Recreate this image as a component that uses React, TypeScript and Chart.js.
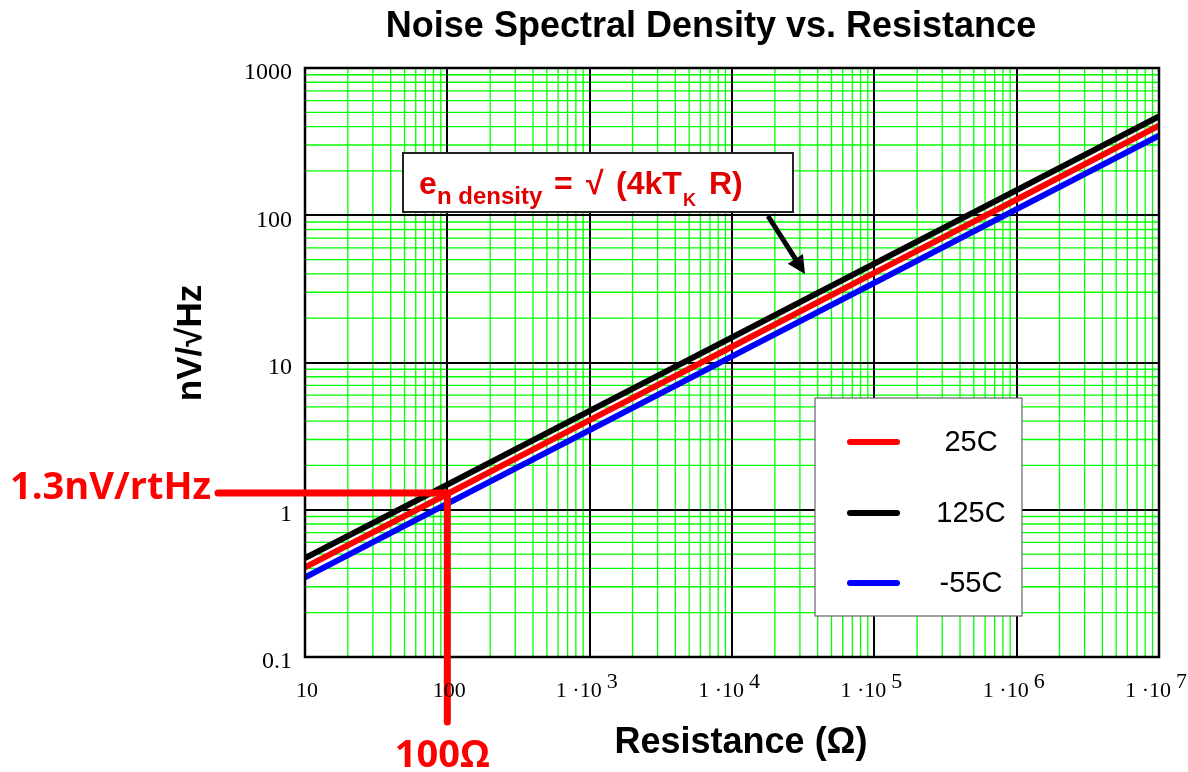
import React, { useEffect, useRef } from "react";
import { Chart, registerables } from "chart.js";

Chart.register(...registerables);

// ---- data ----
const resistance = [10, 100, 1e3, 1e4, 1e5, 1e6, 1e7];
const noise25C = [0.406, 1.28, 4.06, 12.8, 40.6, 128, 406];
const noise125C = [0.469, 1.48, 4.69, 14.8, 46.9, 148, 469];
const noiseMinus55C = [0.347, 1.1, 3.47, 11.0, 34.7, 110, 347];
const seriesLabels = ["25C", "125C", "-55C"];
const seriesColors = ["#ff0000", "#000000", "#0000ff"];

const xTickValues = [10, 100, 1e3, 1e4, 1e5, 1e6, 1e7];
const xTickBase = ["10", "100", "1 \u00b710", "1 \u00b710", "1 \u00b710", "1 \u00b710", "1 \u00b710"];
const xTickExp = ["", "", "3", "4", "5", "6", "7"];
const yTickValues = [0.1, 1, 10, 100, 1000];
const yTickLabels = ["0.1", "1", "10", "100", "1000"];

const markerResistance = 100;
const markerNoise = 1.3;
const markerNoiseLabel = "1.3nV/rtHz";
const markerResistanceLabel = "100\u03a9";

const titleText = "Noise Spectral Density vs. Resistance";
const xTitle = "Resistance (\u03a9)";
const yTitle = "nV/\u221aHz";

function decadeGrid(minExp: number, maxExp: number): number[] {
  const out: number[] = [];
  for (let e = minExp; e < maxExp; e++) {
    for (let m = 1; m <= 9; m++) out.push(Number((m * Math.pow(10, e)).toPrecision(12)));
  }
  out.push(Number(Math.pow(10, maxExp).toPrecision(12)));
  return out;
}
const xGrid = decadeGrid(1, 7);
const yGrid = decadeGrid(-1, 3);

const isDecade = (v: number) => {
  const l = Math.log10(v);
  return Math.abs(l - Math.round(l)) < 1e-9;
};

const gridPlugin = {
  id: "logGrid",
  beforeDatasetsDraw(chart: any) {
    const ctx: CanvasRenderingContext2D = chart.ctx;
    const { left, right, top, bottom } = chart.chartArea;
    const xs = chart.scales.x;
    const ys = chart.scales.y;
    ctx.save();
    ctx.strokeStyle = "#00ff00";
    ctx.lineWidth = 1.3;
    ctx.beginPath();
    xGrid.filter((v) => !isDecade(v)).forEach((v) => {
      const p = xs.getPixelForValue(v);
      ctx.moveTo(p, top);
      ctx.lineTo(p, bottom);
    });
    yGrid.filter((v) => !isDecade(v)).forEach((v) => {
      const p = ys.getPixelForValue(v);
      ctx.moveTo(left, p);
      ctx.lineTo(right, p);
    });
    ctx.stroke();
    ctx.strokeStyle = "#000";
    ctx.lineWidth = 2;
    ctx.beginPath();
    xGrid.filter(isDecade).forEach((v) => {
      const p = Math.round(xs.getPixelForValue(v));
      ctx.moveTo(p, top);
      ctx.lineTo(p, bottom);
    });
    yGrid.filter(isDecade).forEach((v) => {
      const p = Math.round(ys.getPixelForValue(v));
      ctx.moveTo(left, p);
      ctx.lineTo(right, p);
    });
    ctx.stroke();
    ctx.restore();
  },
};

const overlayPlugin = {
  id: "overlay",
  afterDraw(chart: any) {
    const ctx: CanvasRenderingContext2D = chart.ctx;
    const { left, right, top, bottom } = chart.chartArea;
    const xs = chart.scales.x;
    const ys = chart.scales.y;
    ctx.save();

    // frame
    ctx.strokeStyle = "#000";
    ctx.lineWidth = 2.5;
    ctx.strokeRect(left, top, right - left, bottom - top);

    // formula box
    ctx.fillStyle = "#fff";
    ctx.fillRect(403, 153, 390, 59);
    ctx.strokeStyle = "#222";
    ctx.lineWidth = 2;
    ctx.strokeRect(403, 153, 390, 59);
    ctx.fillStyle = "#e00000";
    ctx.textBaseline = "alphabetic";
    ctx.textAlign = "left";
    const big = "bold 32px 'Liberation Sans', Arial, sans-serif";
    const sub = "bold 24px 'Liberation Sans', Arial, sans-serif";
    const subK = "bold 18px 'Liberation Sans', Arial, sans-serif";
    ctx.font = big;
    ctx.fillText("e", 419, 194);
    ctx.font = sub;
    ctx.fillText("n density", 437, 204);
    ctx.font = big;
    ctx.fillText("=", 554, 194);
    ctx.fillText("\u221a", 586, 194);
    ctx.fillText("(4kT", 616, 194);
    ctx.font = subK;
    ctx.fillText("K", 683, 206);
    ctx.font = big;
    ctx.fillText("R)", 709, 194);

    // arrow
    const ax0 = 768, ay0 = 216, ax1 = 805, ay1 = 274;
    const ang = Math.atan2(ay1 - ay0, ax1 - ax0);
    ctx.strokeStyle = "#000";
    ctx.fillStyle = "#000";
    ctx.lineWidth = 5;
    ctx.lineCap = "butt";
    ctx.beginPath();
    ctx.moveTo(ax0, ay0);
    ctx.lineTo(ax1 - 14 * Math.cos(ang), ay1 - 14 * Math.sin(ang));
    ctx.stroke();
    ctx.beginPath();
    ctx.moveTo(ax1, ay1);
    ctx.lineTo(ax1 - 18 * Math.cos(ang) + 9 * Math.sin(ang), ay1 - 18 * Math.sin(ang) - 9 * Math.cos(ang));
    ctx.lineTo(ax1 - 18 * Math.cos(ang) - 9 * Math.sin(ang), ay1 - 18 * Math.sin(ang) + 9 * Math.cos(ang));
    ctx.closePath();
    ctx.fill();

    // legend box
    ctx.fillStyle = "#fff";
    ctx.fillRect(815, 398, 207, 218);
    ctx.strokeStyle = "#666";
    ctx.lineWidth = 1.2;
    ctx.strokeRect(815, 398, 207, 218);
    const legY = [442, 513, 583];
    chart.data.datasets.forEach((ds: any, i: number) => {
      ctx.strokeStyle = ds.borderColor;
      ctx.lineWidth = 6;
      ctx.lineCap = "round";
      ctx.beginPath();
      ctx.moveTo(850, legY[i]);
      ctx.lineTo(897, legY[i]);
      ctx.stroke();
      ctx.fillStyle = "#000";
      ctx.font = "29px 'Liberation Sans', Arial, sans-serif";
      ctx.textAlign = "center";
      ctx.textBaseline = "middle";
      ctx.fillText(ds.label, 971, legY[i] + 1);
    });

    // red marker lines
    const mx = xs.getPixelForValue(markerResistance);
    const my = ys.getPixelForValue(markerNoise);
    ctx.strokeStyle = "#ff0000";
    ctx.lineWidth = 7;
    ctx.lineCap = "round";
    ctx.lineJoin = "miter";
    ctx.beginPath();
    ctx.moveTo(218, my);
    ctx.lineTo(mx, my);
    ctx.lineTo(mx, 722);
    ctx.stroke();

    ctx.fillStyle = "#ff0000";
    ctx.font = "bold 38px 'Open Sans', 'Liberation Sans', sans-serif";
    ctx.textAlign = "left";
    ctx.textBaseline = "alphabetic";
    ctx.fillText(markerNoiseLabel, 10, my + 6);
    ctx.textAlign = "center";
    ctx.fillText(markerResistanceLabel, mx - 5, 767);

    // tick labels
    ctx.fillStyle = "#000";
    ctx.font = "22px 'Liberation Serif', 'Times New Roman', serif";
    ctx.textBaseline = "alphabetic";
    xTickValues.forEach((v, i) => {
      const px = xs.getPixelForValue(v);
      if (xTickExp[i]) {
        ctx.textAlign = "right";
        ctx.fillText(xTickBase[i], px + 12, 697);
        ctx.textAlign = "left";
        ctx.fillText(xTickExp[i], px + 17, 688);
      } else {
        ctx.textAlign = "center";
        ctx.fillText(xTickBase[i], px + 2, 697);
      }
    });
    ctx.font = "24px 'Liberation Serif', 'Times New Roman', serif";
    ctx.textAlign = "right";
    ctx.textBaseline = "middle";
    yTickValues.forEach((v, i) => {
      const py = ys.getPixelForValue(v);
      ctx.fillText(yTickLabels[i], 292, py + 5);
    });

    // titles
    ctx.fillStyle = "#000";
    ctx.textAlign = "center";
    ctx.textBaseline = "middle";
    ctx.font = "bold 36px 'Liberation Sans', Arial, sans-serif";
    ctx.fillText(titleText, 711, 27);
    ctx.fillText(xTitle, 741, 743);
    ctx.save();
    ctx.translate(191, 343);
    ctx.rotate(-Math.PI / 2);
    ctx.font = "bold 35px 'Liberation Sans', Arial, sans-serif";
    ctx.fillText(yTitle, 0, 0);
    ctx.restore();

    ctx.restore();
  },
};

export default function App() {
  const canvasRef = useRef<HTMLCanvasElement | null>(null);

  useEffect(() => {
    if (!canvasRef.current) return;
    const seriesValues = [noise25C, noise125C, noiseMinus55C];
    const chart = new Chart(canvasRef.current, {
      type: "line",
      data: {
        datasets: seriesValues.map((vals, i) => ({
          label: seriesLabels[i],
          data: resistance.map((r, j) => ({ x: r, y: vals[j] })),
          borderColor: seriesColors[i],
          backgroundColor: seriesColors[i],
          borderWidth: 6,
          pointRadius: 0,
          tension: 0,
          fill: false,
        })),
      },
      options: {
        animation: false,
        responsive: false,
        maintainAspectRatio: false,
        devicePixelRatio: 1,
        layout: { padding: { left: 305, top: 68, right: 29, bottom: 115 } },
        plugins: {
          legend: { display: false },
          title: { display: false },
          tooltip: { enabled: false },
        },
        scales: {
          x: {
            type: "logarithmic",
            min: 10,
            max: 1e7,
            ticks: { display: false },
            border: { display: false },
            grid: { display: false, drawTicks: false },
          },
          y: {
            type: "logarithmic",
            min: 0.1,
            max: 1000,
            ticks: { display: false },
            border: { display: false },
            grid: { display: false, drawTicks: false },
          },
        },
      },
      plugins: [gridPlugin, overlayPlugin],
    });
    return () => chart.destroy();
  }, []);

  return (
    <div style={{ position: "absolute", left: 0, top: 0, width: 1188, height: 772, background: "#fff" }}>
      <canvas ref={canvasRef} width={1188} height={772} style={{ display: "block" }} />
    </div>
  );
}
